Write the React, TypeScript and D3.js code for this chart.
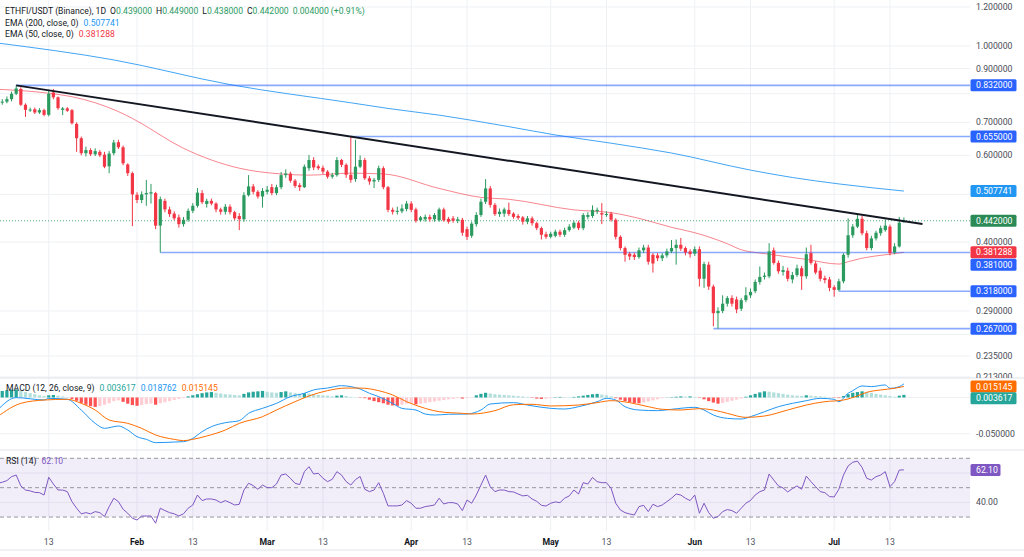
import React from "react"
import * as d3 from "d3"

// one candle per day, Jan 2 – Jul 16 2025
const days = d3.utcDay.range(new Date(Date.UTC(2025, 0, 2)), new Date(Date.UTC(2025, 6, 17)))

const opens = [
  0.772, 0.768, 0.771, 0.780, 0.800, 0.818, 0.760, 0.741, 0.744, 0.733,
  0.741, 0.725, 0.805, 0.787, 0.742, 0.747, 0.741, 0.695, 0.650, 0.606,
  0.615, 0.603, 0.610, 0.602, 0.570, 0.606, 0.638, 0.623, 0.575, 0.552,
  0.499, 0.487, 0.500, 0.502, 0.503, 0.432, 0.485, 0.466, 0.457, 0.449,
  0.435, 0.444, 0.463, 0.474, 0.503, 0.478, 0.485, 0.479, 0.466, 0.461,
  0.472, 0.460, 0.452, 0.445, 0.498, 0.519, 0.506, 0.495, 0.506, 0.517,
  0.503, 0.517, 0.547, 0.551, 0.533, 0.522, 0.517, 0.565, 0.587, 0.570,
  0.566, 0.556, 0.543, 0.547, 0.587, 0.574, 0.548, 0.537, 0.569, 0.587,
  0.539, 0.531, 0.535, 0.565, 0.517, 0.465, 0.461, 0.462, 0.467, 0.479,
  0.466, 0.443, 0.445, 0.450, 0.445, 0.443, 0.466, 0.446, 0.447, 0.442,
  0.444, 0.425, 0.412, 0.435, 0.454, 0.483, 0.514, 0.476, 0.456, 0.457,
  0.465, 0.457, 0.452, 0.449, 0.440, 0.447, 0.437, 0.427, 0.415, 0.410,
  0.412, 0.420, 0.414, 0.423, 0.428, 0.438, 0.427, 0.450, 0.452, 0.462,
  0.458, 0.455, 0.457, 0.444, 0.410, 0.389, 0.379, 0.377, 0.373, 0.385,
  0.390, 0.377, 0.376, 0.371, 0.376, 0.383, 0.389, 0.395, 0.389, 0.383,
  0.379, 0.387, 0.337, 0.360, 0.325, 0.287, 0.290, 0.300, 0.308, 0.306,
  0.293, 0.305, 0.312, 0.318, 0.332, 0.340, 0.341, 0.385, 0.363, 0.348,
  0.350, 0.336, 0.343, 0.354, 0.341, 0.380, 0.362, 0.350, 0.338, 0.336,
  0.324, 0.320, 0.333, 0.377, 0.413, 0.430, 0.446, 0.417, 0.389, 0.407,
  0.417, 0.423, 0.430, 0.381, 0.392, 0.439,
]
const highs = [
  0.780, 0.780, 0.790, 0.808, 0.832, 0.825, 0.765, 0.750, 0.750, 0.748,
  0.746, 0.815, 0.818, 0.790, 0.752, 0.752, 0.745, 0.700, 0.655, 0.625,
  0.620, 0.620, 0.615, 0.610, 0.612, 0.645, 0.645, 0.628, 0.578, 0.556,
  0.505, 0.507, 0.535, 0.525, 0.506, 0.495, 0.490, 0.472, 0.462, 0.455,
  0.450, 0.468, 0.480, 0.515, 0.510, 0.490, 0.490, 0.482, 0.470, 0.478,
  0.477, 0.463, 0.458, 0.505, 0.547, 0.525, 0.510, 0.515, 0.520, 0.525,
  0.523, 0.555, 0.562, 0.556, 0.537, 0.527, 0.575, 0.601, 0.595, 0.575,
  0.572, 0.560, 0.553, 0.595, 0.590, 0.578, 0.655, 0.645, 0.600, 0.593,
  0.545, 0.540, 0.572, 0.570, 0.520, 0.470, 0.472, 0.477, 0.485, 0.484,
  0.470, 0.452, 0.455, 0.455, 0.458, 0.470, 0.470, 0.450, 0.452, 0.450,
  0.448, 0.430, 0.440, 0.460, 0.490, 0.537, 0.520, 0.480, 0.468, 0.470,
  0.481, 0.460, 0.456, 0.452, 0.452, 0.451, 0.440, 0.430, 0.420, 0.420,
  0.424, 0.424, 0.428, 0.435, 0.442, 0.442, 0.458, 0.460, 0.475, 0.470,
  0.480, 0.462, 0.461, 0.447, 0.413, 0.392, 0.382, 0.381, 0.390, 0.395,
  0.395, 0.380, 0.380, 0.380, 0.388, 0.404, 0.405, 0.408, 0.392, 0.387,
  0.392, 0.392, 0.365, 0.365, 0.328, 0.295, 0.312, 0.311, 0.312, 0.310,
  0.308, 0.324, 0.322, 0.336, 0.357, 0.347, 0.398, 0.390, 0.367, 0.358,
  0.355, 0.348, 0.360, 0.358, 0.390, 0.395, 0.366, 0.355, 0.342, 0.340,
  0.327, 0.337, 0.380, 0.447, 0.435, 0.454, 0.452, 0.422, 0.412, 0.422,
  0.432, 0.445, 0.434, 0.398, 0.450, 0.449,
]
const lows = [
  0.762, 0.760, 0.765, 0.772, 0.795, 0.755, 0.718, 0.735, 0.728, 0.728,
  0.720, 0.720, 0.780, 0.742, 0.724, 0.735, 0.693, 0.610, 0.600, 0.597,
  0.598, 0.598, 0.595, 0.565, 0.552, 0.600, 0.618, 0.573, 0.545, 0.431,
  0.480, 0.480, 0.474, 0.479, 0.425, 0.381, 0.460, 0.450, 0.443, 0.428,
  0.430, 0.440, 0.458, 0.470, 0.478, 0.470, 0.475, 0.460, 0.455, 0.455,
  0.455, 0.443, 0.423, 0.440, 0.495, 0.500, 0.490, 0.470, 0.500, 0.498,
  0.498, 0.512, 0.540, 0.528, 0.515, 0.508, 0.515, 0.558, 0.560, 0.560,
  0.550, 0.538, 0.538, 0.543, 0.568, 0.540, 0.528, 0.530, 0.565, 0.535,
  0.523, 0.515, 0.530, 0.512, 0.460, 0.455, 0.455, 0.458, 0.462, 0.460,
  0.438, 0.440, 0.440, 0.440, 0.440, 0.440, 0.440, 0.436, 0.438, 0.437,
  0.412, 0.404, 0.408, 0.430, 0.450, 0.478, 0.470, 0.452, 0.450, 0.450,
  0.452, 0.446, 0.444, 0.434, 0.435, 0.432, 0.423, 0.405, 0.406, 0.407,
  0.409, 0.410, 0.410, 0.420, 0.425, 0.423, 0.423, 0.445, 0.448, 0.456,
  0.435, 0.450, 0.440, 0.405, 0.385, 0.365, 0.368, 0.368, 0.370, 0.380,
  0.360, 0.347, 0.366, 0.366, 0.372, 0.380, 0.360, 0.384, 0.376, 0.372,
  0.375, 0.325, 0.323, 0.320, 0.270, 0.267, 0.287, 0.296, 0.296, 0.287,
  0.290, 0.302, 0.308, 0.315, 0.328, 0.336, 0.338, 0.360, 0.345, 0.342,
  0.333, 0.330, 0.340, 0.320, 0.337, 0.360, 0.344, 0.333, 0.330, 0.318,
  0.310, 0.318, 0.330, 0.372, 0.408, 0.427, 0.413, 0.385, 0.385, 0.403,
  0.412, 0.420, 0.376, 0.378, 0.390, 0.438,
]
const closes = [
  0.768, 0.771, 0.780, 0.800, 0.820, 0.760, 0.742, 0.743, 0.733, 0.741,
  0.725, 0.800, 0.787, 0.748, 0.747, 0.739, 0.697, 0.650, 0.606, 0.615,
  0.603, 0.612, 0.600, 0.569, 0.605, 0.637, 0.623, 0.578, 0.552, 0.500,
  0.487, 0.500, 0.503, 0.505, 0.432, 0.489, 0.466, 0.456, 0.447, 0.435,
  0.444, 0.463, 0.474, 0.504, 0.482, 0.485, 0.479, 0.466, 0.461, 0.472,
  0.460, 0.447, 0.445, 0.498, 0.519, 0.506, 0.495, 0.508, 0.511, 0.503,
  0.517, 0.547, 0.551, 0.533, 0.520, 0.517, 0.569, 0.587, 0.567, 0.565,
  0.556, 0.543, 0.547, 0.587, 0.574, 0.548, 0.535, 0.569, 0.587, 0.539,
  0.531, 0.535, 0.565, 0.517, 0.465, 0.461, 0.463, 0.468, 0.479, 0.465,
  0.442, 0.449, 0.450, 0.445, 0.454, 0.466, 0.443, 0.440, 0.442, 0.445,
  0.418, 0.410, 0.436, 0.454, 0.483, 0.514, 0.476, 0.456, 0.461, 0.466,
  0.456, 0.450, 0.448, 0.440, 0.447, 0.437, 0.427, 0.414, 0.410, 0.416,
  0.420, 0.414, 0.423, 0.430, 0.438, 0.427, 0.454, 0.454, 0.465, 0.465,
  0.455, 0.456, 0.444, 0.410, 0.389, 0.377, 0.374, 0.373, 0.385, 0.390,
  0.365, 0.362, 0.371, 0.376, 0.383, 0.389, 0.395, 0.388, 0.381, 0.378,
  0.387, 0.337, 0.361, 0.325, 0.287, 0.290, 0.300, 0.308, 0.300, 0.292,
  0.305, 0.312, 0.317, 0.332, 0.340, 0.342, 0.383, 0.363, 0.349, 0.351,
  0.337, 0.343, 0.354, 0.341, 0.378, 0.363, 0.347, 0.337, 0.335, 0.323,
  0.320, 0.333, 0.377, 0.413, 0.430, 0.446, 0.417, 0.389, 0.407, 0.418,
  0.427, 0.432, 0.380, 0.392, 0.438, 0.442,
]

// MACD histogram, one bar per day
const macdHist = [
  0.0080, 0.0090, 0.0100, 0.0108, 0.0112, 0.0095, 0.0075, 0.0060, 0.0045, 0.0030,
  0.0020, 0.0030, 0.0035, 0.0025, 0.0015, 0.0005, -0.0020, -0.0045, -0.0075, -0.0100,
  -0.0120, -0.0130, -0.0120, -0.0100, -0.0080, -0.0050, -0.0040, -0.0060, -0.0085, -0.0105,
  -0.0115, -0.0105, -0.0090, -0.0085, -0.0100, -0.0080, -0.0065, -0.0050, -0.0035, -0.0020,
  -0.0010, 0.0015, 0.0030, 0.0045, 0.0060, 0.0070, 0.0075, 0.0065, 0.0055, 0.0045,
  0.0040, 0.0035, 0.0030, 0.0050, 0.0070, 0.0080, 0.0085, 0.0090, 0.0080, 0.0070,
  0.0065, 0.0075, 0.0085, 0.0070, 0.0060, 0.0050, 0.0060, 0.0055, 0.0045, 0.0035,
  0.0030, 0.0025, 0.0015, 0.0025, 0.0030, 0.0020, 0.0010, 0.0003, -0.0005, -0.0010,
  -0.0030, -0.0050, -0.0065, -0.0080, -0.0100, -0.0110, -0.0115, -0.0100, -0.0085, -0.0075,
  -0.0095, -0.0085, -0.0075, -0.0065, -0.0055, -0.0045, -0.0035, -0.0025, -0.0018, -0.0010,
  -0.0015, -0.0010, -0.0003, 0.0030, 0.0050, 0.0065, 0.0055, 0.0045, 0.0040, 0.0035,
  0.0030, 0.0025, 0.0020, 0.0015, 0.0008, -0.0005, -0.0015, -0.0020, -0.0018, -0.0010,
  0.0005, 0.0008, 0.0006, 0.0005, 0.0008, 0.0015, 0.0025, 0.0035, 0.0045, 0.0050,
  0.0040, 0.0030, 0.0015, -0.0010, -0.0030, -0.0050, -0.0065, -0.0075, -0.0080, -0.0070,
  -0.0055, -0.0040, -0.0025, -0.0010, 0.0002, 0.0005, 0.0010, 0.0015, 0.0012, 0.0015,
  0.0008, -0.0005, -0.0025, -0.0050, -0.0070, -0.0085, -0.0075, -0.0060, -0.0045, -0.0030,
  -0.0015, 0.0010, 0.0030, 0.0050, 0.0070, 0.0085, 0.0080, 0.0070, 0.0060, 0.0050,
  0.0040, 0.0030, 0.0025, 0.0020, 0.0030, 0.0025, 0.0020, 0.0015, 0.0010, 0.0005,
  -0.0005, -0.0008, 0.0020, 0.0045, 0.0065, 0.0075, 0.0085, 0.0075, 0.0065, 0.0050,
  0.0040, 0.0030, 0.0020, 0.0010, 0.0025, 0.003617,
]

// RSI(14), one value per day
const rsiValues = [
  53.0, 53.7, 54.8, 57.5, 58.6, 51.2, 48.4, 47.8, 46.8, 46.6,
  45.0, 57.1, 52.5, 48.4, 48.4, 47.3, 40.5, 36.0, 32.2, 33.0,
  32.2, 33.7, 33.0, 30.3, 37.1, 42.8, 40.5, 35.3, 32.6, 29.2,
  28.0, 30.7, 30.7, 30.7, 25.8, 36.0, 34.4, 33.0, 32.2, 30.7,
  32.2, 36.0, 38.2, 45.0, 41.2, 42.3, 42.3, 41.6, 39.8, 41.2,
  39.8, 38.2, 38.7, 48.4, 53.0, 51.4, 48.9, 51.8, 50.0, 50.0,
  52.5, 58.6, 59.3, 56.4, 53.0, 52.1, 60.9, 64.3, 59.3, 59.8,
  56.4, 54.1, 55.7, 60.9, 58.6, 54.1, 51.8, 55.5, 57.6, 48.9,
  47.3, 48.4, 53.4, 46.2, 37.6, 37.6, 37.6, 38.2, 41.2, 39.4,
  36.0, 36.0, 37.1, 37.6, 38.2, 42.8, 38.9, 39.8, 39.8, 38.9,
  34.4, 41.6, 39.4, 45.0, 51.8, 58.6, 50.7, 47.3, 48.4, 48.4,
  47.3, 47.1, 45.7, 44.4, 44.8, 42.3, 40.7, 38.0, 37.5, 39.4,
  40.3, 39.8, 42.8, 44.4, 48.4, 45.7, 53.4, 52.5, 57.0, 54.1,
  53.4, 53.4, 49.6, 39.4, 34.8, 33.0, 32.1, 31.4, 37.1, 38.0,
  33.7, 38.7, 37.1, 38.2, 40.5, 42.8, 45.7, 45.0, 42.8, 41.2,
  45.0, 32.6, 39.4, 33.0, 29.2, 30.3, 33.7, 35.1, 34.4, 32.6,
  36.0, 39.4, 41.3, 45.0, 47.3, 48.4, 59.3, 55.2, 51.2, 49.8,
  47.1, 49.3, 51.2, 48.9, 57.9, 54.1, 50.7, 47.3, 46.6, 43.9,
  43.7, 48.9, 58.6, 64.8, 67.3, 68.1, 63.8, 56.4, 55.2, 57.5,
  58.6, 60.9, 50.7, 54.1, 62.0, 62.1,
]

// smooth lines, sampled by day index into `days`
const macdAt = [0, 4, 10, 11, 15, 18, 21, 23, 26, 28, 30, 32, 34, 38, 40, 42, 44, 46, 49, 52, 54, 57, 60, 63, 66, 68, 71, 74, 76, 78, 80, 82, 85, 87, 90, 92, 94, 97, 101, 104, 106, 111, 114, 119, 122, 125, 129, 131, 133, 135, 138, 142, 145, 150, 152, 154, 157, 160, 162, 165, 168, 171, 174, 177, 180, 181, 183, 184, 186, 188, 191, 192, 194, 195]
const macdLine = [-0.0173, -0.0002, -0.0034, -0.0012, -0.0025, -0.0173, -0.0357, -0.0426, -0.0394, -0.0449, -0.0541, -0.0578, -0.0624, -0.0615, -0.0610, -0.0564, -0.0472, -0.0403, -0.0348, -0.0320, -0.0219, -0.0150, -0.0081, 0.0012, 0.0058, 0.0104, 0.0131, 0.0163, 0.0150, 0.0117, 0.0058, 0.0012, -0.0081, -0.0150, -0.0173, -0.0228, -0.0242, -0.0232, -0.0228, -0.0173, -0.0090, -0.0071, -0.0104, -0.0150, -0.0159, -0.0127, -0.0058, -0.0012, -0.0035, -0.0127, -0.0173, -0.0182, -0.0163, -0.0136, -0.0173, -0.0242, -0.0288, -0.0297, -0.0265, -0.0196, -0.0127, -0.0081, -0.0044, -0.0012, -0.0025, -0.0058, 0.0058, 0.0094, 0.0159, 0.0150, 0.0173, 0.0127, 0.0150, 0.018762]

const signalAt = [0, 5, 10, 15, 18, 21, 24, 28, 31, 34, 38, 40, 42, 45, 49, 52, 57, 60, 64, 67, 71, 75, 78, 82, 85, 88, 92, 95, 100, 102, 107, 111, 115, 119, 125, 129, 132, 136, 140, 143, 147, 151, 154, 157, 161, 165, 170, 174, 178, 182, 185, 187, 190, 193, 195]
const signalLine = [-0.0265, -0.0081, -0.0035, -0.0025, -0.0081, -0.0173, -0.0311, -0.0357, -0.0426, -0.0518, -0.0578, -0.0596, -0.0578, -0.0532, -0.0449, -0.0357, -0.0265, -0.0173, -0.0058, 0.0021, 0.0095, 0.0130, 0.0130, 0.0094, 0.0035, -0.0058, -0.0150, -0.0196, -0.0219, -0.0228, -0.0182, -0.0100, -0.0094, -0.0117, -0.0104, -0.0071, -0.0044, -0.0071, -0.0127, -0.0163, -0.0173, -0.0154, -0.0173, -0.0219, -0.0274, -0.0256, -0.0173, -0.0104, -0.0058, -0.0035, 0.0021, 0.0071, 0.0104, 0.0127, 0.015145]

const ema200At = [0, 25, 50, 76, 84, 95, 110, 120, 132, 145, 162, 171, 181, 195]
const ema200 = [1.014, 0.937, 0.835, 0.767, 0.747, 0.724, 0.686, 0.660, 0.635, 0.6065, 0.560, 0.541, 0.525, 0.507741]

const ema50At = [0, 11, 16, 26, 29, 40, 52, 61, 67, 76, 83, 95, 104, 110, 124, 132, 138, 145, 150, 157, 160, 166, 174, 181, 183, 186, 189, 192, 195]
const ema50 = [0.817, 0.802, 0.789, 0.736, 0.713, 0.620, 0.565, 0.550, 0.547, 0.552, 0.550, 0.514, 0.493, 0.4886, 0.465, 0.459, 0.447, 0.4286, 0.418, 0.397, 0.386, 0.378, 0.369, 0.361, 0.365, 0.371, 0.375, 0.378, 0.381288]

// drawn levels and the falling resistance line
const levelPrices = [0.832, 0.655, 0.381, 0.318, 0.267]
const levelStarts = ["2025-01-06", "2025-03-19", "2025-02-06", "2025-07-02", "2025-06-05"]
const trendDates = ["2025-01-06", "2025-03-19"]
const trendPrices = [0.832, 0.655]
const trendEnd = "2025-07-20"

const timeTicks = ["2025-01-13", "2025-02-01", "2025-02-13", "2025-03-01", "2025-03-13", "2025-04-01", "2025-04-13", "2025-05-01", "2025-05-13", "2025-06-01", "2025-06-13", "2025-07-01", "2025-07-13"]
const priceTicks = [1.2, 1.0, 0.9, 0.8, 0.7, 0.6, 0.5, 0.4, 0.29, 0.26, 0.235, 0.213]

const upColor = "#2b9a5f"
const downColor = "#f23645"
const levelColor = "#2962ff"
const font = "Roboto, 'Noto Sans', sans-serif"

const W = 1024
const H = 557
const plotRight = 970
const mainBottom = 378
const macdBottom = 450
const rsiBottom = 531

const utc = (s: string) => new Date(s + "T00:00:00Z")

const x = d3.scaleUtc().domain([days[0], days[days.length - 1]]).range([-2.4, 903.9])
const yPrice = d3.scaleLog().domain([0.212, 1.2398]).range([mainBottom, 0])
const yMacd = d3.scaleLinear().domain([-0.0725, 0.0269]).range([macdBottom, mainBottom])
const yRsi = d3.scaleLinear().domain([20.5, 75.65]).range([rsiBottom, macdBottom])

// push overlapping axis badges apart
const stack = (items: { v: number; y: number; bg: string; text: string }[], gap: number) => {
  const s = items.slice().sort((a, b) => a.y - b.y)
  for (let k = 1; k < s.length; k++) if (s[k].y - s[k - 1].y < gap) s[k].y = s[k - 1].y + gap
  return s
}

const histColor = (i: number) => {
  const v = macdHist[i]
  const prev = i > 0 ? macdHist[i - 1] : v
  if (v >= 0) return v >= prev ? "#26a69a" : "#b2dfdb"
  return v < prev ? "#ff5252" : "#ffcdd2"
}

const Badge = ({ y, bg, text, w = 46 }: { y: number; bg: string; text: string; w?: number }) => (
  <g>
    <rect x={970.5} y={y - 6} width={w} height={12} rx={1.5} fill={bg} />
    <text x={976} y={y + 3.1} fill="#fff" fontSize={8.7}>{text}</text>
  </g>
)

export default function App() {
  const last = days.length - 1
  const lastClose = closes[last]

  const emaLine = d3.line<[number, number]>().x((d) => x(days[d[0]])).y((d) => yPrice(d[1])).curve(d3.curveMonotoneX)
  const macdPath = d3.line<[number, number]>().x((d) => x(days[d[0]])).y((d) => yMacd(d[1])).curve(d3.curveMonotoneX)
  const rsiPath = d3.line<number>().x((_, i) => x(days[i])).y((d) => yRsi(d))

  // resistance extended in log space past the last candle
  const t0 = utc(trendDates[0]).getTime()
  const t1 = utc(trendDates[1]).getTime()
  const tE = utc(trendEnd).getTime()
  const slope = (Math.log(trendPrices[1]) - Math.log(trendPrices[0])) / (t1 - t0)
  const endPrice = Math.exp(Math.log(trendPrices[0]) + slope * (tE - t0))

  const priceBadges = stack(
    [
      { v: 0.832, bg: levelColor },
      { v: 0.655, bg: levelColor },
      { v: ema200[ema200.length - 1], bg: "#2196f3" },
      { v: lastClose, bg: "#2b8a55" },
      { v: ema50[ema50.length - 1], bg: "#f23645" },
      { v: 0.381, bg: levelColor },
      { v: 0.318, bg: levelColor },
      { v: 0.267, bg: levelColor },
    ].map((d) => ({ ...d, y: yPrice(d.v), text: d.v.toFixed(6) })),
    12.3
  )
  // tick labels hidden where a badge sits on top of them
  const visibleTicks = priceTicks.filter((p) => priceBadges.every((b) => Math.abs(b.y - yPrice(p)) > 9))
  const macdBadges = stack(
    [
      { v: signalLine[signalLine.length - 1], bg: "#ff6d00" },
      { v: macdHist[last], bg: "#26a69a" },
    ].map((d) => ({ ...d, y: yMacd(d.v), text: d.v.toFixed(6) })),
    11.7
  )

  const grid = "#eef0f4"
  const sep = "#e0e3eb"
  const ohlc = [
    ["O", opens[last]],
    ["H", highs[last]],
    ["L", lows[last]],
    ["C", lastClose],
  ] as [string, number][]
  const change = lastClose - closes[last - 1]

  return (
    <svg width={W} height={H} style={{ position: "absolute", left: 0, top: 0, background: "#fff" }} fontFamily={font}>
      <defs>
        <clipPath id="main"><rect x={0} y={0} width={plotRight} height={mainBottom} /></clipPath>
        <clipPath id="macd"><rect x={0} y={mainBottom} width={plotRight} height={macdBottom - mainBottom} /></clipPath>
        <clipPath id="rsi"><rect x={0} y={macdBottom} width={plotRight} height={rsiBottom - macdBottom} /></clipPath>
        <clipPath id="mainAxis"><rect x={plotRight} y={0} width={W - plotRight} height={mainBottom} /></clipPath>
      </defs>

      {/* grid */}
      {timeTicks.map((t) => (
        <line key={t} x1={x(utc(t))} x2={x(utc(t))} y1={0} y2={rsiBottom} stroke={grid} />
      ))}
      {priceTicks.map((p) => (
        <line key={p} x1={0} x2={plotRight} y1={yPrice(p)} y2={yPrice(p)} stroke={grid} />
      ))}
      {[0, -0.05].map((v) => (
        <line key={v} x1={0} x2={plotRight} y1={yMacd(v)} y2={yMacd(v)} stroke={grid} />
      ))}
      {[40, 60].map((v) => (
        <line key={v} x1={0} x2={plotRight} y1={yRsi(v)} y2={yRsi(v)} stroke={grid} />
      ))}

      {/* price pane */}
      <g clipPath="url(#main)">
        <path d={emaLine(ema200At.map((d, i) => [d, ema200[i]]) as [number, number][]) || ""} fill="none" stroke="#42a5f5" strokeWidth={1} />
        <path d={emaLine(ema50At.map((d, i) => [d, ema50[i]]) as [number, number][]) || ""} fill="none" stroke="#f23645" strokeOpacity={0.6} strokeWidth={1} />
        {levelPrices.map((p, i) => (
          <line key={p} x1={x(utc(levelStarts[i]))} x2={plotRight} y1={yPrice(p)} y2={yPrice(p)} stroke={levelColor} strokeOpacity={0.55} strokeWidth={1.6} />
        ))}
        <line x1={0} x2={plotRight} y1={yPrice(lastClose)} y2={yPrice(lastClose)} stroke={upColor} strokeDasharray="1 2" strokeOpacity={0.8} />
        {days.map((d, i) => {
          const cx = x(d)
          const c = closes[i] >= opens[i] ? upColor : downColor
          const top = yPrice(Math.max(opens[i], closes[i]))
          const bot = yPrice(Math.min(opens[i], closes[i]))
          return (
            <g key={i}>
              <line x1={cx} x2={cx} y1={yPrice(highs[i])} y2={yPrice(lows[i])} stroke={c} strokeWidth={1} />
              <rect x={cx - 1.6} y={top} width={3.2} height={Math.max(1, bot - top)} fill={c} />
            </g>
          )
        })}
        <line x1={x(utc(trendDates[0]))} y1={yPrice(trendPrices[0])} x2={x(utc(trendEnd))} y2={yPrice(endPrice)} stroke="#131722" strokeWidth={2} />
      </g>

      {/* MACD pane */}
      <g clipPath="url(#macd)">
        {macdHist.map((v, i) => {
          const y0 = yMacd(0)
          const y1 = yMacd(v)
          return <rect key={i} x={x(days[i]) - 1.6} y={Math.min(y0, y1)} width={3.2} height={Math.abs(y1 - y0)} fill={histColor(i)} />
        })}
        <path d={macdPath(macdAt.map((d, i) => [d, macdLine[i]]) as [number, number][]) || ""} fill="none" stroke="#2196f3" strokeWidth={1} />
        <path d={macdPath(signalAt.map((d, i) => [d, signalLine[i]]) as [number, number][]) || ""} fill="none" stroke="#ff6d00" strokeWidth={1} />
      </g>

      {/* RSI pane */}
      <g clipPath="url(#rsi)">
        <rect x={0} y={yRsi(70)} width={plotRight} height={yRsi(30) - yRsi(70)} fill="#7e57c2" fillOpacity={0.1} />
        {[70, 50, 30].map((v) => (
          <line key={v} x1={0} x2={plotRight} y1={yRsi(v)} y2={yRsi(v)} stroke="#9598a1" strokeDasharray="4 3" />
        ))}
        <path d={rsiPath(rsiValues) || ""} fill="none" stroke="#7e57c2" strokeWidth={1} />
      </g>

      {/* separators */}
      <line x1={0} x2={W} y1={mainBottom} y2={mainBottom} stroke={sep} />
      <line x1={0} x2={W} y1={macdBottom} y2={macdBottom} stroke={sep} />
      <line x1={0} x2={W} y1={550} y2={550} stroke={sep} />

      {/* price axis */}
      <g clipPath="url(#mainAxis)">
        {visibleTicks.map((p) => (
          <text key={p} x={976} y={yPrice(p) + 3.1} fontSize={8.7} fill="#4a4d57">{p.toFixed(6)}</text>
        ))}
        {priceBadges.map((b) => (
          <Badge key={b.text + b.bg} y={b.y} bg={b.bg} text={b.text} />
        ))}
      </g>
      <text x={976} y={yMacd(-0.05) + 3.1} fontSize={8.7} fill="#4a4d57">{(-0.05).toFixed(6)}</text>
      {macdBadges.map((b) => (
        <Badge key={b.text} y={b.y} bg={b.bg} text={b.text} />
      ))}
      <text x={976} y={yRsi(40) + 3.1} fontSize={8.7} fill="#4a4d57">40.00</text>
      <Badge y={yRsi(rsiValues[last])} bg="#7e57c2" text={rsiValues[last].toFixed(2)} w={30} />

      {/* time axis */}
      {timeTicks.map((t) => {
        const d = utc(t)
        const first = d.getUTCDate() === 1
        return (
          <text key={t} x={x(d)} y={545} textAnchor="middle" fontSize={8.7} fontWeight={first ? 700 : 400} fill={first ? "#131722" : "#50535e"}>
            {first ? d3.utcFormat("%b")(d) : d3.utcFormat("%-d")(d)}
          </text>
        )
      })}

      {/* legends */}
      <text x={5} y={14} fontSize={8.6} fill="#131722">
        ETHFI/USDT (Binance), 1D
        {ohlc.map(([k, v]) => (
          <tspan key={k}>
            <tspan dx={4}>{k}</tspan>
            <tspan fill={upColor}>{v.toFixed(6)}</tspan>
          </tspan>
        ))}
        <tspan dx={4} fill={upColor}>{change.toFixed(6)} (+{((change / closes[last - 1]) * 100).toFixed(2)}%)</tspan>
      </text>
      <text x={5} y={26} fontSize={8.6} fill="#131722">
        EMA (200, close, 0)
        <tspan dx={5} fill="#2196f3">{ema200[ema200.length - 1].toFixed(6)}</tspan>
      </text>
      <text x={5} y={37} fontSize={8.6} fill="#131722">
        EMA (50, close, 0)
        <tspan dx={5} fill="#f23645">{ema50[ema50.length - 1].toFixed(6)}</tspan>
      </text>
      <text x={6} y={391} fontSize={8.6} fill="#131722">
        MACD (12, 26, close, 9)
        <tspan dx={5} fill="#26a69a">{macdHist[last].toFixed(6)}</tspan>
        <tspan dx={5} fill="#2196f3">{macdLine[macdLine.length - 1].toFixed(6)}</tspan>
        <tspan dx={5} fill="#ff6d00">{signalLine[signalLine.length - 1].toFixed(6)}</tspan>
      </text>
      <text x={6} y={464} fontSize={8.6} fill="#131722">
        RSI (14)
        <tspan dx={5} fill="#7e57c2">{rsiValues[last].toFixed(2)}</tspan>
      </text>
    </svg>
  )
}
